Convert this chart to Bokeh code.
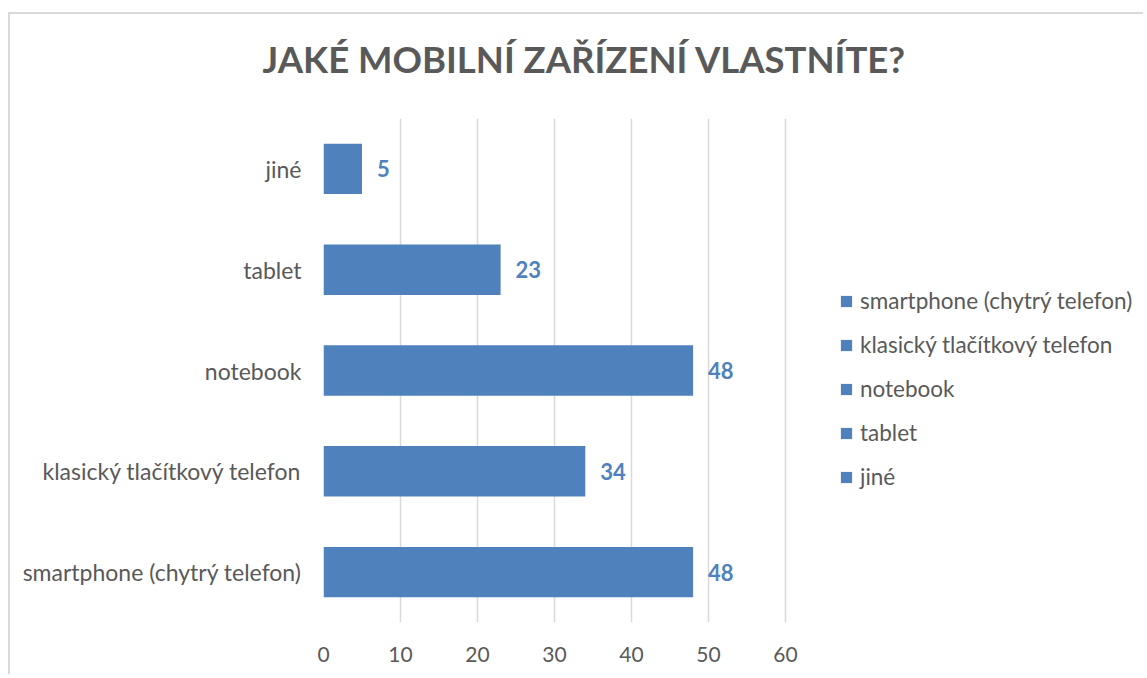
from bokeh.plotting import figure
from bokeh.models import (ColumnDataSource, Legend, LegendItem, Title, FactorRange,
                          Range1d, LabelSet, FixedTicker)
from bokeh.core.properties import value, field
from bokeh.embed import file_html
from bokeh.resources import INLINE

# ---- data ----
categories = ["smartphone (chytrý telefon)", "klasický tlačítkový telefon",
              "notebook", "tablet", "jiné"]
counts = [48, 34, 48, 23, 5]
x_ticks = [0, 10, 20, 30, 40, 50, 60]
title_text = "JAKÉ MOBILNÍ ZAŘÍZENÍ VLASTNÍTE?"

FONT = "Lato"
GREY = "#595959"
BLUE = "#4F81BD"

src = ColumnDataSource(dict(cat=categories, count=counts,
                            label=[str(c) for c in counts]))

# layout (pixels)
W, H = 1135, 662
BL, BR, BT, BB = 313, 2, 104, 54
AXIS_PX = 462          # pixels spanned by the 0..60 value axis
frame_px = W - BL - BR
x_end = x_ticks[-1] * frame_px / AXIS_PX   # frame also hosts the legend area

p = figure(width=W, height=H,
           y_range=FactorRange(*categories), x_range=Range1d(0, x_end),
           output_backend="svg", toolbar_location=None,
           min_border_left=BL, min_border_right=BR,
           min_border_top=BT, min_border_bottom=BB)
p.styles = {"border-top": "2px solid #d9d9d9", "border-left": "2px solid #d9d9d9",
            "margin-top": "12px", "margin-left": "8px"}
p.outline_line_color = None
p.background_fill_color = "white"
p.border_fill_color = "white"

r = p.hbar(y="cat", right="count", left=0, height=0.5, source=src,
           fill_color=BLUE, line_color=None)

# grid
p.ygrid.grid_line_color = None
p.xgrid.ticker = FixedTicker(ticks=x_ticks)
p.xgrid.grid_line_color = "#d9d9d9"
p.xgrid.grid_line_width = 1.5

# axes
p.xaxis.ticker = FixedTicker(ticks=x_ticks)
for ax in (p.xaxis[0], p.yaxis[0]):
    ax.axis_line_color = None
    ax.major_tick_line_color = None
    ax.minor_tick_line_color = None
    ax.major_tick_out = 0
    ax.major_tick_in = 0
    ax.major_label_text_font = FONT
    ax.major_label_text_color = GREY
p.xaxis.major_label_text_font_size = "21px"
p.yaxis.major_label_text_font_size = "23px"
p.xaxis.major_label_standoff = 24
p.yaxis.major_label_standoff = 22

# data labels
labels = LabelSet(x="count", y="cat", text="label", source=src,
                  x_offset=15, text_baseline="middle", text_align="left",
                  text_font=value(FONT), text_font_style="bold",
                  text_font_size="22px", text_color=BLUE)
p.add_layout(labels)

# title (spacer between frame and title first, then the title itself)
spacer = Title(text=" ", standoff=29, text_font_size="1px")
p.add_layout(spacer, "above")
t = Title(text=title_text, align="left", offset=-61, vertical_align="middle",
          standoff=10, text_font=FONT, text_font_style="bold",
          text_font_size="36.5px", text_color=GREY)
p.add_layout(t, "above")

# legend
legend = Legend(items=[LegendItem(label=field("cat"), renderers=[r])],
                location=(516, 132), orientation="vertical",
                glyph_width=14, glyph_height=14, label_standoff=7,
                spacing=17, padding=0, margin=0,
                border_line_color=None, background_fill_alpha=0,
                label_text_font=FONT, label_text_font_size="22.5px",
                label_text_color=GREY, label_text_baseline="middle")
p.add_layout(legend)

open("out.html", "w").write(file_html(p, INLINE))
